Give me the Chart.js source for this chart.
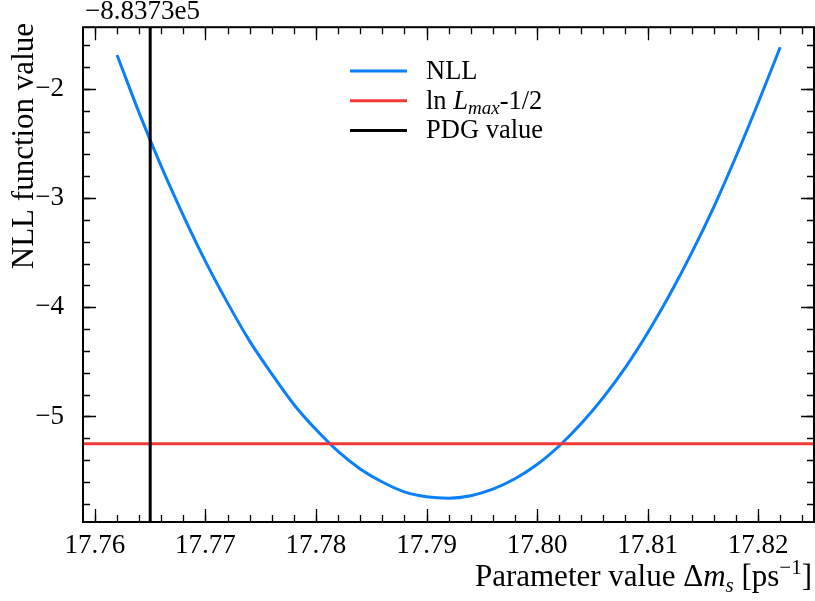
<!DOCTYPE html>
<html>
<head>
<meta charset="utf-8">
<script src="https://cdn.jsdelivr.net/npm/chart.js@4/dist/chart.umd.min.js"></script>
<style>
    html, body { margin: 0; padding: 0; background: #fff; }
    #wrap { width: 815px; height: 601px; position: relative; }
</style>
</head>
<body>
<div id="wrap"><canvas id="nllChart"></canvas></div>
<script>
// Scan points of the NLL curve (offset -8.8373e5 on y)
const deltaMs = [17.762, 17.764, 17.766, 17.768, 17.770, 17.772, 17.774, 17.776, 17.778, 17.780,
    17.782, 17.784, 17.786, 17.788, 17.790, 17.792, 17.794, 17.796, 17.798, 17.800,
    17.802, 17.804, 17.806, 17.808, 17.810, 17.812, 17.814, 17.816, 17.818, 17.820, 17.822];
const nllValues = [-1.69, -2.22, -2.71, -3.16, -3.58, -3.96, -4.31, -4.61, -4.89, -5.12,
    -5.32, -5.48, -5.60, -5.69, -5.735, -5.748, -5.725, -5.665, -5.57, -5.44,
    -5.27, -5.065, -4.825, -4.55, -4.235, -3.885, -3.50, -3.08, -2.62, -2.13, -1.62];

const lnLmaxHalf = -5.25;   // ln L_max - 1/2
const pdgValue = 17.765;    // PDG Δm_s

const xRange = [17.75892, 17.82506];
const yRange = [-5.966, -1.436];
const xTickStep = 0.01, xMinorStep = 0.002;
const yTickStep = 1, yMinorStep = 0.2;
const offsetLabel = '\u22128.8373e5';

const serif = "'Liberation Serif', 'DejaVu Serif', serif";

// draw a string made of several font runs (for italics, sub/superscripts)
const drawRuns = (ctx, runs, x, y, align) => {
    let total = 0;
    runs.forEach(r => { ctx.font = r.font; total += ctx.measureText(r.t).width; });
    let cx = align === 'right' ? x - total : x;
    ctx.textAlign = 'left';
    runs.forEach(r => {
        ctx.font = r.font;
        ctx.fillText(r.t, cx, y + (r.dy || 0));
        cx += ctx.measureText(r.t).width;
    });
};

const decorPlugin = {
    id: 'decor',
    afterDraw(chart) {
        const { ctx, chartArea: a, scales: { x, y } } = chart;
        ctx.save();
        ctx.strokeStyle = '#000';
        ctx.fillStyle = '#000';

        // inward ticks on all four sides
        ctx.lineWidth = 1.3;
        const tickX = (step, len) => {
            for (let v = Math.ceil(xRange[0] / step - 1e-6) * step; v <= xRange[1] + 1e-9; v += step) {
                const px = Math.round(x.getPixelForValue(v)) + 0.5;
                ctx.beginPath();
                ctx.moveTo(px, a.bottom); ctx.lineTo(px, a.bottom - len);
                ctx.moveTo(px, a.top); ctx.lineTo(px, a.top + len);
                ctx.stroke();
            }
        };
        const tickY = (step, len) => {
            for (let v = Math.ceil(yRange[0] / step - 1e-6) * step; v <= yRange[1] + 1e-9; v += step) {
                const py = Math.round(y.getPixelForValue(v)) + 0.5;
                ctx.beginPath();
                ctx.moveTo(a.left, py); ctx.lineTo(a.left + len, py);
                ctx.moveTo(a.right, py); ctx.lineTo(a.right - len, py);
                ctx.stroke();
            }
        };
        tickX(xMinorStep, 7); tickX(xTickStep, 13);
        tickY(yMinorStep, 7); tickY(yTickStep, 13);

        // frame
        ctx.lineWidth = 2;
        ctx.strokeRect(a.left, a.top, a.right - a.left, a.bottom - a.top);

        // offset text
        ctx.textBaseline = 'alphabetic';
        ctx.font = `27px ${serif}`;
        ctx.textAlign = 'left';
        ctx.fillText(offsetLabel, 85, 19);

        // x title
        const big = `31px ${serif}`, bigIt = `italic 31px ${serif}`;
        const small = `21px ${serif}`, smallIt = `italic 21px ${serif}`;
        drawRuns(ctx, [
            { t: 'Parameter value \u0394', font: big },
            { t: 'm', font: bigIt },
            { t: 's', font: smallIt, dy: 6 },
            { t: ' [ps', font: big },
            { t: '\u22121', font: small, dy: -12 },
            { t: ']', font: big }
        ], 812, 586, 'right');

        // y title
        ctx.save();
        ctx.translate(33, 23);
        ctx.rotate(-Math.PI / 2);
        ctx.font = big;
        ctx.textAlign = 'right';
        ctx.fillText('NLL function value', 0, 0);
        ctx.restore();

        // legend
        const lf = `26.5px ${serif}`;
        const legendItems = [
            { color: '#0a7ffb', runs: [{ t: 'NLL', font: lf }] },
            { color: '#f43838', runs: [
                { t: 'ln ', font: lf },
                { t: 'L', font: `italic 26.5px ${serif}` },
                { t: 'max', font: `italic 19px ${serif}`, dy: 5 },
                { t: '-1/2', font: lf }
            ] },
            { color: '#000000', runs: [{ t: 'PDG value', font: lf }] }
        ];
        ctx.textBaseline = 'alphabetic';
        legendItems.forEach((it, i) => {
            const ly = 71 + i * 29.7;
            ctx.strokeStyle = it.color;
            ctx.lineWidth = 3;
            ctx.beginPath();
            ctx.moveTo(350, ly); ctx.lineTo(407, ly);
            ctx.stroke();
            ctx.fillStyle = '#000';
            drawRuns(ctx, it.runs, 426, ly + 8, 'left');
        });
        ctx.restore();
    }
};

const isStep = (v, step) => Math.abs(v / step - Math.round(v / step)) < 1e-6;

new Chart(document.getElementById('nllChart'), {
    type: 'line',
    data: {
        datasets: [
            {
                label: 'NLL',
                data: deltaMs.map((v, i) => ({ x: v, y: nllValues[i] })),
                borderColor: '#0a7ffb',
                borderWidth: 3,
                pointRadius: 0,
                cubicInterpolationMode: 'monotone',
                order: 3
            },
            {
                label: 'ln Lmax-1/2',
                data: [{ x: xRange[0], y: lnLmaxHalf }, { x: xRange[1], y: lnLmaxHalf }],
                borderColor: '#f43838',
                borderWidth: 3,
                pointRadius: 0,
                order: 2
            },
            {
                label: 'PDG value',
                data: [{ x: pdgValue, y: yRange[0] }, { x: pdgValue, y: yRange[1] }],
                borderColor: '#000000',
                borderWidth: 3,
                pointRadius: 0,
                order: 1
            }
        ]
    },
    options: {
        responsive: true,
        maintainAspectRatio: false,
        animation: false,
        layout: { padding: { top: 23, right: 1, left: 0, bottom: 0 } },
        plugins: {
            legend: { display: false },
            tooltip: { enabled: false }
        },
        scales: {
            x: {
                type: 'linear',
                min: xRange[0],
                max: xRange[1],
                afterFit: (s) => { s.height = 79; },
                grid: { display: false },
                border: { display: false },
                ticks: {
                    stepSize: xTickStep,
                    includeBounds: false,
                    autoSkip: false,
                    maxRotation: 0,
                    padding: 0,
                    color: '#000',
                    font: { family: serif, size: 27 },
                    callback: (v) => isStep(v, xTickStep) ? v.toFixed(2) : ''
                }
            },
            y: {
                type: 'linear',
                min: yRange[0],
                max: yRange[1],
                afterFit: (s) => { s.width = 83; },
                grid: { display: false },
                border: { display: false },
                ticks: {
                    stepSize: yTickStep,
                    includeBounds: false,
                    autoSkip: false,
                    padding: 11,
                    color: '#000',
                    font: { family: serif, size: 27 },
                    callback: (v) => isStep(v, yTickStep) ? String(Math.round(v)).replace('-', '\u2212') : ''
                }
            }
        }
    },
    plugins: [decorPlugin]
});
</script>
</body>
</html>
